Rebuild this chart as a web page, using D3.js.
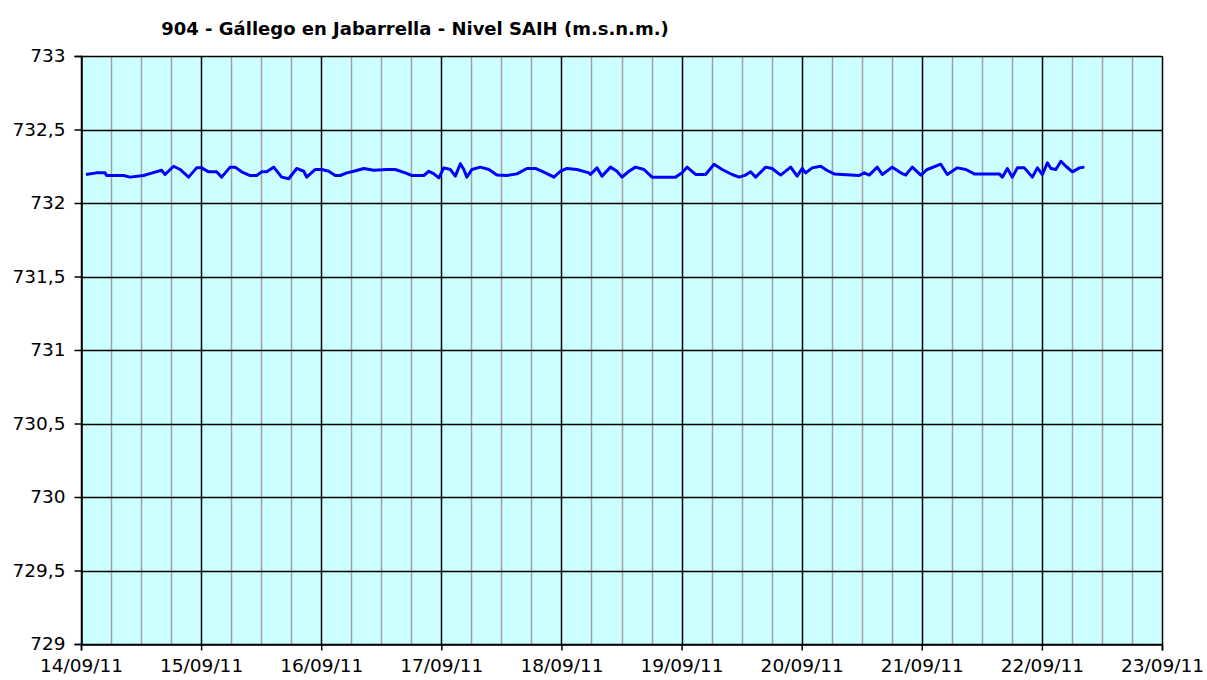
<!DOCTYPE html>
<meta charset="utf-8">
<style>
body { margin: 0; background: #fff; }
svg text { font-family: "DejaVu Sans", sans-serif; fill: #000; }
.title { font-size: 18px; font-weight: bold; }
.tick text { font-size: 18.5px; }
</style>
<svg width="1207" height="680"></svg>
<script src="https://d3js.org/d3.v7.min.js"></script>
<script>

// series start: 14/09/2011 00:00, offsets in hours
var startDate = new Date(2011, 8, 14, 0, 0);
var hours = [1.0, 3.1, 4.8, 5.1, 8.5, 9.8, 12.5, 14.1, 16.1, 16.8, 18.5, 19.8, 21.5, 23.1, 24.1,
  25.5, 27.1, 28.1, 29.8, 30.8, 32.1, 33.8, 35.1, 36.1, 37.1, 38.5, 40.1, 41.5, 43.1, 44.5,
  45.1, 46.8, 48.1, 49.5, 50.8, 51.8, 53.1, 54.5, 56.5, 58.5, 61.1, 62.8, 64.8, 66.1, 68.5,
  69.5, 70.5, 71.5, 72.5, 73.8, 74.8, 75.8, 76.5, 77.1, 78.1, 79.8, 81.5, 83.1, 85.1, 87.1,
  89.1, 90.8, 92.8, 94.5, 95.8, 97.1, 99.1, 101.5, 101.8, 103.1, 104.1, 105.8, 107.1, 108.1,
  109.5, 110.8, 112.5, 114.1, 118.8, 120.1, 121.1, 122.8, 124.8, 126.5, 128.1, 130.1, 131.5,
  132.8, 133.8, 134.8, 136.8, 138.1, 139.8, 141.8, 143.1, 144.1, 144.8, 146.1, 147.8, 149.1,
  150.5, 152.1, 155.5, 156.5, 157.5, 159.1, 160.1, 162.1, 163.8, 164.8, 166.1, 167.8, 169.1,
  171.8, 173.1, 175.1, 176.8, 178.5, 183.5, 184.1, 185.1, 186.1, 187.1, 188.5, 190.1, 191.1,
  192.1, 193.1, 193.8, 194.8, 195.8, 196.8, 198.1, 199.5, 200.5];
var levels = [732.194, 732.205, 732.205, 732.187, 732.187, 732.176, 732.187, 732.203, 732.223, 732.194,
  732.250, 732.228, 732.176, 732.239, 732.239, 732.212, 732.212, 732.176, 732.244, 732.244,
  732.212, 732.187, 732.187, 732.212, 732.212, 732.244, 732.176, 732.165, 732.235, 732.216,
  732.176, 732.228, 732.228, 732.216, 732.187, 732.187, 732.205, 732.216, 732.235, 732.223,
  732.228, 732.228, 732.205, 732.187, 732.187, 732.216, 732.198, 732.171, 732.239, 732.228,
  732.183, 732.267, 732.228, 732.176, 732.228, 732.244, 732.228, 732.190, 732.187, 732.198,
  732.235, 732.235, 732.205, 732.176, 732.216, 732.235, 732.228, 732.205, 732.194, 732.239,
  732.183, 732.244, 732.216, 732.176, 732.216, 732.244, 732.228, 732.176, 732.176, 732.205,
  732.244, 732.194, 732.194, 732.264, 732.228, 732.194, 732.176, 732.190, 732.212, 732.176,
  732.244, 732.235, 732.190, 732.244, 732.183, 732.235, 732.205, 732.239, 732.250, 732.221,
  732.198, 732.194, 732.187, 732.205, 732.190, 732.244, 732.194, 732.244, 732.205, 732.190,
  732.244, 732.190, 732.228, 732.264, 732.194, 732.239, 732.228, 732.198, 732.198, 732.176,
  732.235, 732.176, 732.239, 732.239, 732.176, 732.239, 732.194, 732.273, 732.235, 732.228,
  732.284, 732.250, 732.212, 732.239, 732.244];
var yTicks = [729, 729.5, 730, 730.5, 731, 731.5, 732, 732.5, 733];
var titleText = "904 - Gállego en Jabarrella - Nivel SAIH (m.s.n.m.)";

var svg = d3.select("svg"),
    plotLeft = 81, plotRight = 1162, plotTop = 56, plotBottom = 644;

var x = d3.scaleTime()
    .domain([new Date(2011, 8, 14), new Date(2011, 8, 23)])
    .range([plotLeft, plotRight]);

var y = d3.scaleLinear()
    .domain([729, 733])
    .range([plotBottom, plotTop]);

var data = hours.map(function(h, i) {
  return { date: d3.timeMinute.offset(startDate, Math.round(h * 60)), value: levels[i] };
});

svg.append("rect")
    .attr("x", plotLeft).attr("y", plotTop)
    .attr("width", plotRight - plotLeft).attr("height", plotBottom - plotTop)
    .attr("fill", "#ccffff");

// minor grid, every 6 hours
svg.append("g")
  .selectAll("line")
  .data(d3.timeHour.every(6).range(x.domain()[0], x.domain()[1]).filter(function(d) { return d.getHours() !== 0; }))
  .enter().append("line")
    .attr("x1", function(d) { return Math.round(x(d)) + 0.5; })
    .attr("x2", function(d) { return Math.round(x(d)) + 0.5; })
    .attr("y1", plotTop).attr("y2", plotBottom)
    .attr("stroke", "#a0a0a0").attr("stroke-width", 1.5);

// major grid
svg.append("g")
  .selectAll("line")
  .data(d3.timeDay.range(x.domain()[0], d3.timeDay.offset(x.domain()[1], 1)))
  .enter().append("line")
    .attr("x1", function(d) { return Math.round(x(d)) + 0.5; })
    .attr("x2", function(d) { return Math.round(x(d)) + 0.5; })
    .attr("y1", plotTop).attr("y2", plotBottom)
    .attr("stroke", "#000").attr("stroke-width", 1.5);

svg.append("g")
  .selectAll("line")
  .data(yTicks)
  .enter().append("line")
    .attr("x1", plotLeft).attr("x2", plotRight)
    .attr("y1", function(d) { return Math.round(y(d)) + 0.5; })
    .attr("y2", function(d) { return Math.round(y(d)) + 0.5; })
    .attr("stroke", "#000").attr("stroke-width", 1.5);

var line = d3.line()
    .x(function(d) { return x(d.date); })
    .y(function(d) { return y(d.value); });

svg.append("path")
    .datum(data)
    .attr("fill", "none")
    .attr("stroke", "#0000ff")
    .attr("stroke-width", 3)
    .attr("stroke-linejoin", "round")
    .attr("d", line);

var fmtNum = function(d) { return String(d).replace(".", ","); };

svg.append("g")
    .attr("class", "axis")
    .attr("transform", "translate(" + (plotLeft + 0.5) + ",0)")
    .call(d3.axisLeft(y).tickValues(yTicks).tickFormat(fmtNum).tickSize(7).tickPadding(9));

svg.append("g")
    .attr("class", "axis")
    .attr("transform", "translate(0," + (plotBottom + 0.5) + ")")
    .call(d3.axisBottom(x).ticks(d3.timeDay.every(1)).tickFormat(d3.timeFormat("%d/%m/%y")).tickSize(6).tickPadding(8));

svg.selectAll(".axis").attr("font-family", null).attr("font-size", null);
svg.selectAll(".axis .domain").attr("stroke", "#000").attr("stroke-width", 1.5);
svg.selectAll(".axis .tick line").attr("stroke", "#000").attr("stroke-width", 1.5);
svg.selectAll(".axis text").attr("fill", "#000");

svg.append("text")
    .attr("class", "title")
    .attr("x", 415)
    .attr("y", 35)
    .attr("text-anchor", "middle")
    .text(titleText);

</script>
